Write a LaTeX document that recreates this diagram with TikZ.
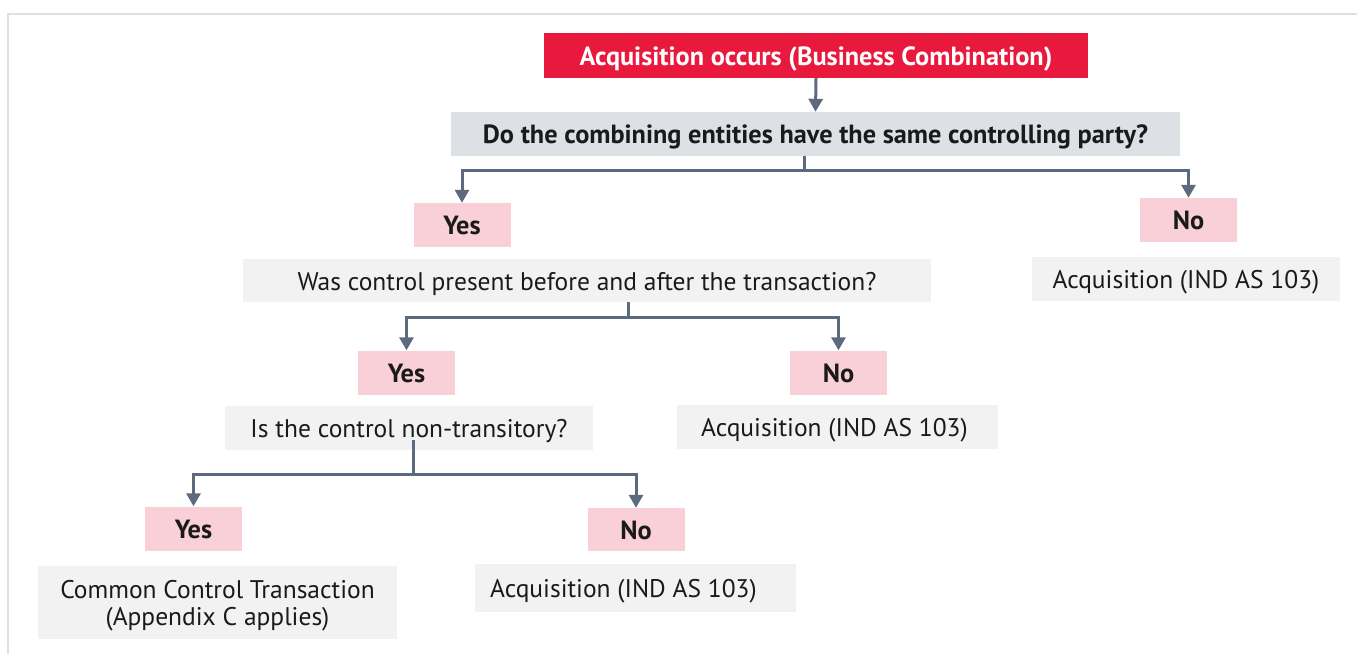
\documentclass[tikz,border=0pt]{standalone}
\usepackage{fontspec}
\setmainfont{PT Sans}
\usetikzlibrary{arrows.meta}
\definecolor{frameline}{HTML}{DDE1E5}
\definecolor{headred}{HTML}{E8193C}
\definecolor{qblue}{HTML}{DDE1E5}
\definecolor{boxgray}{HTML}{F2F2F2}
\definecolor{answerpink}{HTML}{F9D0D8}
\definecolor{connector}{HTML}{5B6B7D}
\definecolor{ink}{HTML}{1A1A1A}
\newcommand{\boxfont}{\fontsize{25.5}{27}\selectfont}
\newcommand{\boldboxfont}{\fontsize{26.3}{27}\selectfont\bfseries}
\tikzset{
  base/.style={inner sep=0pt, align=center, text=ink, font=\boxfont,
    text height=21pt, text depth=2pt},
  header/.style={base, fill=headred, text=white, font=\boldboxfont},
  question/.style={base, fill=qblue, font=\boldboxfont},
  plainbox/.style={base, fill=boxgray},
  twoline/.style={plainbox, text height=48pt, text depth=2pt},
  answer/.style={base, fill=answerpink, font=\boldboxfont, minimum width=97pt, minimum height=44pt},
  link/.style={draw=connector, line width=3pt},
  arr/.style={link, -{Triangle[width=14pt,length=13pt]}},
}
\begin{document}
\begin{tikzpicture}[x=1pt,y=-1pt]
\useasboundingbox (0,0) rectangle (1357,654);
% outer frame (top and left edges)
\draw[frameline, line width=2.5pt] (8,654) -- (8,14) -- (1357,14);

% boxes
\node[header, minimum width=544pt, minimum height=45pt] (top) at (816,55.5) {Acquisition occurs (Business Combination)};
\node[question, minimum width=729pt, minimum height=44pt] (q1) at (815.5,134) {Do the combining entities have the same controlling party?};
\node[answer] (yes1) at (462,225) {Yes};
\node[answer] (no1) at (1188.5,220) {No};
\node[plainbox, minimum width=688pt, minimum height=43pt] (q2) at (587,280.5) {Was control present before and after the transaction?};
\node[plainbox, minimum width=308pt, minimum height=44pt] (acq1) at (1186,279) {Acquisition (IND AS 103)};
\node[answer] (yes2) at (406.5,372.5) {Yes};
\node[answer] (no2) at (838.5,372.5) {No};
\node[plainbox, minimum width=368pt, minimum height=44pt] (q3) at (409,428) {Is the control non-transitory?};
\node[plainbox, minimum width=321pt, minimum height=44pt] (acq2) at (837.5,427) {Acquisition (IND AS 103)\hspace*{6pt}};
\node[answer] (yes3) at (193.5,528.5) {Yes};
\node[answer, minimum height=43pt] (no3) at (636,529.5) {No};
\node[twoline, minimum width=359pt, minimum height=73pt] (cct) at (217.5,602.5) {Common Control Transaction\\(Appendix C applies)};
\node[plainbox, minimum width=321pt, minimum height=48pt] (acq3) at (635.5,588) {Acquisition (IND AS 103)\hspace*{24pt}};

% connectors
\draw[arr] (top.south) -- (q1.north);

\coordinate (j1) at (804,170);
\draw[link] (q1.south -| j1) -- (j1);
\draw[arr] ([xshift=1.5pt]j1) -| (yes1.north);
\draw[arr] ([xshift=-1.5pt]j1) -| (no1.north);

\coordinate (j2) at (628,317);
\draw[link] (q2.south -| j2) -- (j2);
\draw[arr] ([xshift=1.5pt]j2) -| (yes2.north);
\draw[arr] ([xshift=-1.5pt]j2) -| (no2.north);

\coordinate (j3) at (413,474);
\draw[link] ([yshift=10pt]q3.south -| j3) -- (j3);
\draw[arr] ([xshift=1.5pt]j3) -| (yes3.north);
\draw[arr] ([xshift=-1.5pt]j3) -| (no3.north);
\end{tikzpicture}
\end{document}
